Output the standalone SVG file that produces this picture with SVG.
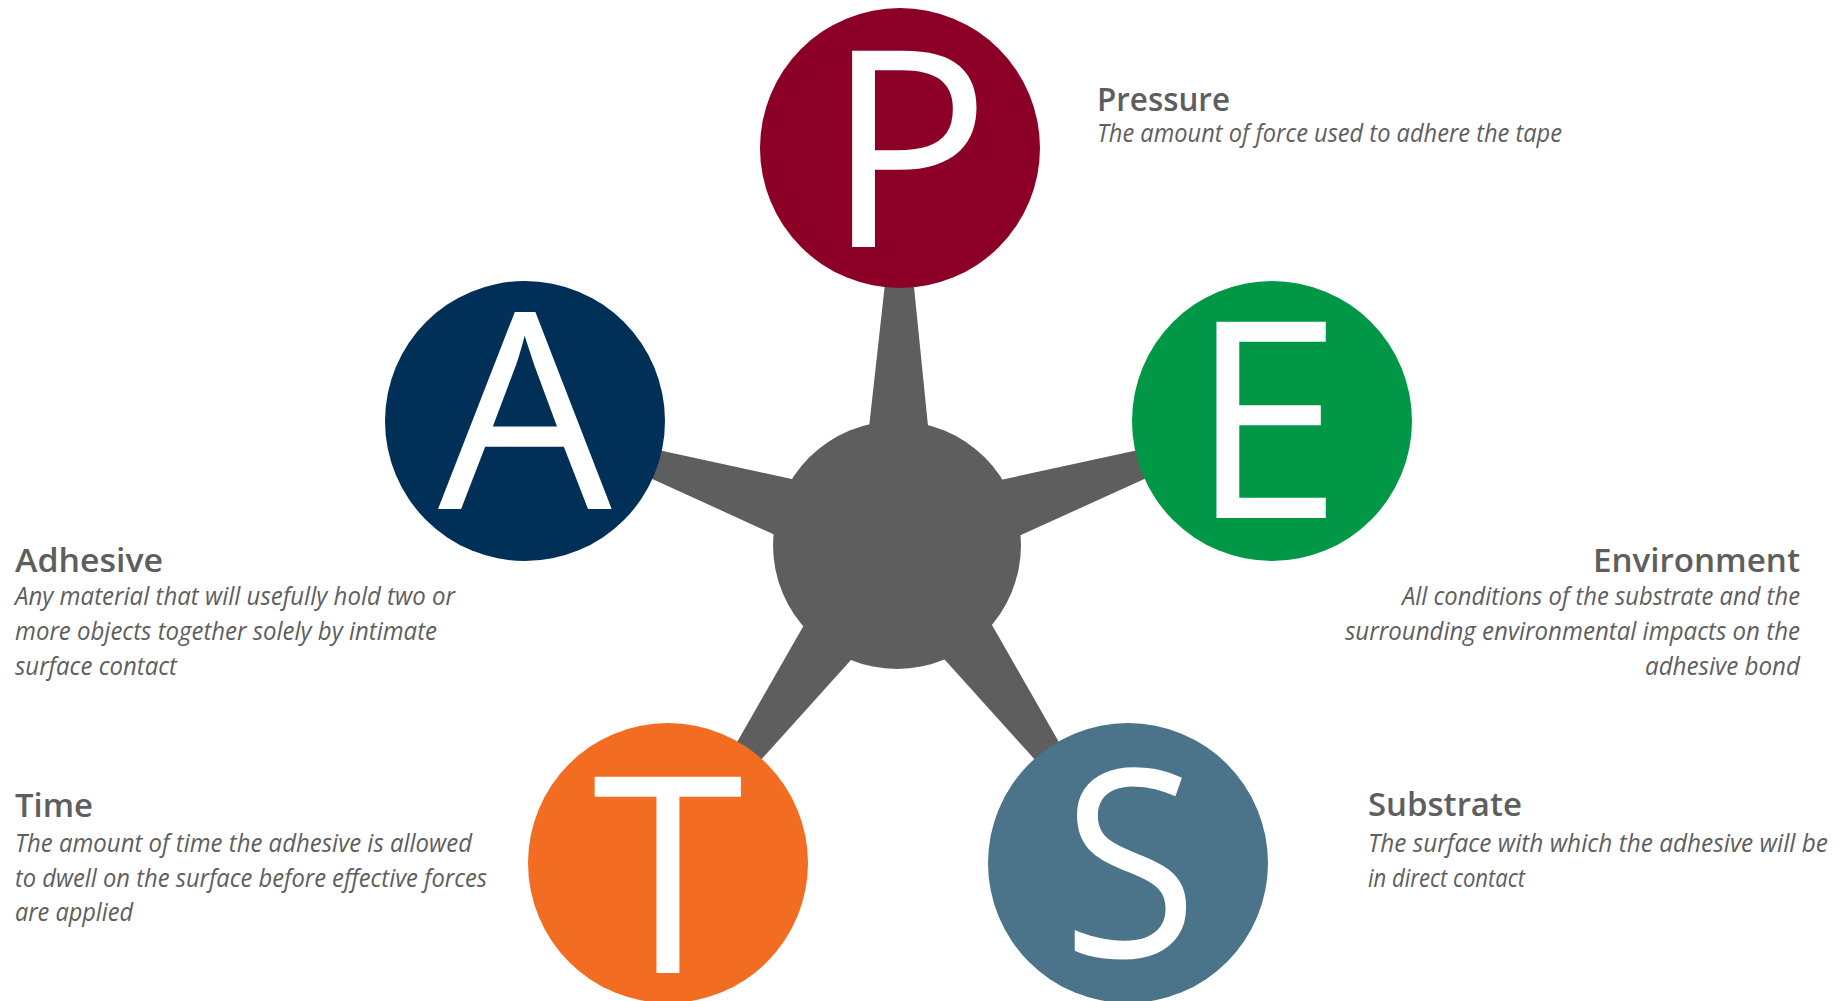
<svg xmlns="http://www.w3.org/2000/svg" width="1843" height="1001" viewBox="0 0 1843 1001">
<style>
.spoke{fill:#5e5e5e}
.letter{font-family:"Open Sans","Liberation Sans",sans-serif;font-size:275px;fill:#ffffff;text-anchor:middle}
.title{font-family:"Open Sans","Liberation Sans",sans-serif;font-weight:600;font-size:33px;fill:#5e5e5e}
.desc{font-family:"Open Sans","Liberation Sans",sans-serif;font-style:italic;font-size:25px;fill:#5e5e5e}
.r{text-anchor:end}
</style>
<rect width="1843" height="1001" fill="#ffffff"/>
<g id="connectors">
<polygon class="spoke" points="900,148 940,545 856,545"/>
<polygon class="spoke" points="525,421 911,505 885,585"/>
<polygon class="spoke" points="1272,421 911,585 885,505"/>
<polygon class="spoke" points="668,863 932,570 864,520"/>
<polygon class="spoke" points="1128,863 864,570 932,520"/>
</g>
<g id="hub"><circle cx="897" cy="545" r="124" fill="#5e5e5e"/></g>
<g id="node-P">
<circle cx="900" cy="148" r="140" fill="#8c0027"/>
<text class="letter" x="908" y="247">P</text>
</g>
<g id="node-A">
<circle cx="525" cy="421" r="140" fill="#003057"/>
<text class="letter" x="525" y="509">A</text>
</g>
<g id="node-E">
<circle cx="1272" cy="421" r="140" fill="#009846"/>
<text class="letter" x="1266" y="518">E</text>
</g>
<g id="node-T">
<circle cx="668" cy="863" r="140" fill="#f26d22"/>
<text class="letter" x="668" y="973">T</text>
</g>
<g id="node-S">
<circle cx="1128" cy="863" r="140" fill="#4b7389"/>
<text class="letter" x="1130" y="957" style="font-size:262px" textLength="136" lengthAdjust="spacingAndGlyphs">S</text>
</g>
<g id="label-pressure">
<text class="title" x="1097" y="111" textLength="133" lengthAdjust="spacingAndGlyphs">Pressure</text>
<text class="desc" x="1097" y="142" textLength="465" lengthAdjust="spacingAndGlyphs">The amount of force used to adhere the tape</text>
</g>
<g id="label-adhesive">
<text class="title" x="15" y="572" textLength="148" lengthAdjust="spacingAndGlyphs">Adhesive</text>
<text class="desc" x="15" y="605" textLength="440" lengthAdjust="spacingAndGlyphs">Any material that will usefully hold two or</text>
<text class="desc" x="15" y="640" textLength="422" lengthAdjust="spacingAndGlyphs">more objects together solely by intimate</text>
<text class="desc" x="15" y="675" textLength="162" lengthAdjust="spacingAndGlyphs">surface contact</text>
</g>
<g id="label-time">
<text class="title" x="15" y="817" textLength="78" lengthAdjust="spacingAndGlyphs">Time</text>
<text class="desc" x="15" y="852" textLength="457" lengthAdjust="spacingAndGlyphs">The amount of time the adhesive is allowed</text>
<text class="desc" x="15" y="887" textLength="472" lengthAdjust="spacingAndGlyphs">to dwell on the surface before effective forces</text>
<text class="desc" x="15" y="921" textLength="118" lengthAdjust="spacingAndGlyphs">are applied</text>
</g>
<g id="label-environment">
<text class="title r" x="1800" y="572" textLength="207" lengthAdjust="spacingAndGlyphs">Environment</text>
<text class="desc r" x="1800" y="605" textLength="398" lengthAdjust="spacingAndGlyphs">All conditions of the substrate and the</text>
<text class="desc r" x="1800" y="640" textLength="455" lengthAdjust="spacingAndGlyphs">surrounding environmental impacts on the</text>
<text class="desc r" x="1800" y="675" textLength="155" lengthAdjust="spacingAndGlyphs">adhesive bond</text>
</g>
<g id="label-substrate">
<text class="title" x="1368" y="816" textLength="154" lengthAdjust="spacingAndGlyphs">Substrate</text>
<text class="desc" x="1368" y="852" textLength="460" lengthAdjust="spacingAndGlyphs">The surface with which the adhesive will be</text>
<text class="desc" x="1368" y="887" textLength="157" lengthAdjust="spacingAndGlyphs">in direct contact</text>
</g>
</svg>
